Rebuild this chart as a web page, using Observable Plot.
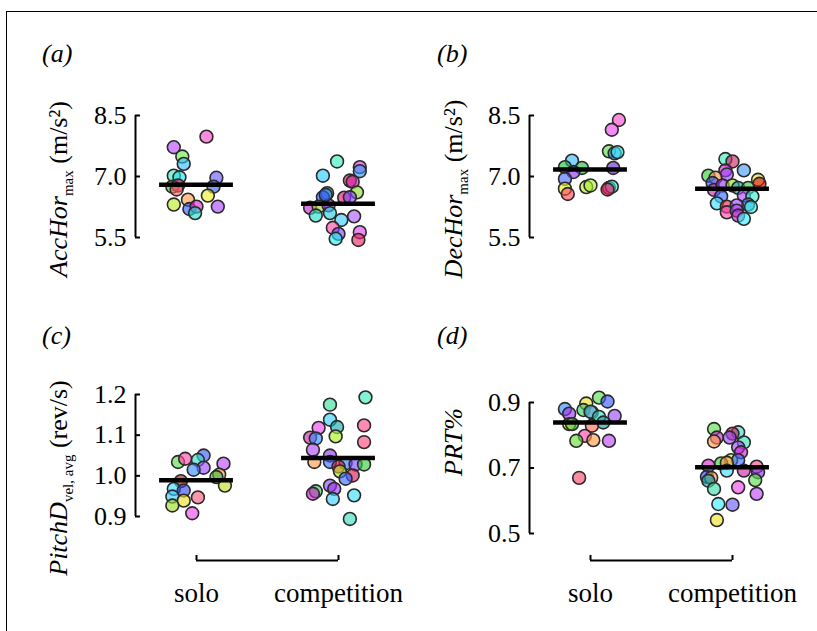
<!DOCTYPE html>
<html>
<head>
<meta charset="utf-8">
<script src="https://cdn.jsdelivr.net/npm/d3@7"></script>
<script src="https://cdn.jsdelivr.net/npm/@observablehq/plot@0.6"></script>
<style>
  html, body { margin: 0; padding: 0; background: #fff; }
  #root { position: relative; width: 817px; height: 631px; overflow: hidden; font-family: "Liberation Serif"; }
  #frame { position: absolute; left: 6px; top: 11px; width: 830px; height: 640px; border-left: 1.5px solid #000; border-top: 1.5px solid #000; box-sizing: border-box; }
</style>
</head>
<body>
<div id="root"><div id="frame"></div></div>
<script>
// ---------- data ----------
const groups = ["solo", "competition"];

// (a) AccHor_max (m/s^2)
const accTicks = [5.5, 7.0, 8.5];
const accSolo = [7.98, 7.72, 7.49, 7.31, 7.02, 6.98, 6.97, 6.75, 6.78, 6.75, 6.68, 6.53, 6.43, 6.31, 6.20, 6.26, 6.10, 6.26];
const accSoloJit = [0.07, -0.16, -0.10, -0.09, -0.16, -0.12, 0.14, -0.17, -0.13, 0.12, -0.14, 0.08, -0.06, -0.16, -0.05, 0.00, -0.01, 0.15];
const accSoloCol = ["#ff44cc", "#bb44ff", "#66ee44", "#33bbff", "#33eebb", "#22ddee", "#6655ff", "#33cc33", "#dd1155", "#3366ee", "#ff6666", "#eeee22", "#ff9944", "#bbee22", "#3355ff", "#dd22cc", "#22ddcc", "#aa44ff"];
const accComp = [7.37, 7.02, 7.23, 7.13, 6.90, 6.87, 6.61, 6.59, 6.49, 6.48, 6.49, 6.23, 6.26, 6.29, 6.04, 6.10, 5.93, 6.02, 5.74, 5.59, 5.47, 5.63, 5.44, 6.55];
const accCompJit = [-0.01, -0.11, 0.15, 0.15, 0.08, 0.10, 0.13, -0.08, -0.11, 0.04, 0.08, -0.20, -0.14, -0.07, -0.16, -0.06, 0.02, 0.11, -0.04, 0.00, -0.02, 0.15, 0.14, -0.09];
const accCompCol = ["#33eebb", "#22ccff", "#dd33dd", "#3399ff", "#dd1155", "#cc22aa", "#88dd22", "#33cc33", "#3355ff", "#dd1166", "#8844ff", "#cc22cc", "#aacc22", "#9933ee", "#22ddcc", "#22ccdd", "#33ccff", "#aa55ff", "#ff44aa", "#7744ff", "#22eeee", "#dd44ee", "#ee2266", "#3366ff"];
const accMeans = [6.80, 6.33];

// (b) DecHor_max (m/s^2)
const decTicks = [5.5, 7.0, 8.5];
const decSolo = [8.39, 8.15, 7.62, 7.57, 7.60, 7.39, 7.23, 7.21, 7.11, 7.21, 6.94, 6.70, 6.57, 6.74, 6.78, 6.72, 6.75, 6.68];
const decSoloJit = [0.20, 0.15, 0.13, 0.17, 0.19, -0.13, -0.18, -0.06, -0.12, 0.16, -0.18, -0.18, -0.16, -0.03, 0.00, 0.13, 0.15, 0.12];
const decSoloCol = ["#ff44cc", "#ee44ee", "#55dd44", "#3388ff", "#33eeee", "#33bbff", "#22bb44", "#22bb33", "#8833ee", "#6622cc", "#4466ff", "#eeee22", "#ff4455", "#bbee22", "#aaee33", "#cc22aa", "#33eecc", "#ee2266"];
const decComp = [7.43, 7.37, 7.15, 7.15, 7.05, 7.02, 6.97, 6.84, 6.92, 6.82, 6.67, 6.78, 6.78, 6.72, 6.72, 6.53, 6.51, 6.51, 6.34, 6.31, 6.25, 6.26, 6.29, 6.12, 6.16, 6.04, 5.96];
const decCompJit = [-0.05, 0.00, 0.08, -0.05, -0.04, -0.17, -0.12, -0.14, 0.18, 0.19, -0.13, -0.07, 0.00, 0.04, 0.11, 0.08, 0.14, -0.08, -0.11, 0.11, 0.13, -0.04, 0.03, -0.04, 0.03, 0.04, 0.08];
const decCompCol = ["#33eebb", "#cc2266", "#4499ff", "#cc22cc", "#9944ff", "#33cc33", "#ff9944", "#3355ff", "#eedd22", "#dd1111", "#cc22aa", "#9933ee", "#99dd22", "#11aaaa", "#33cc33", "#aa44ff", "#33eecc", "#3366ff", "#33ddff", "#3377ff", "#33eedd", "#ee2255", "#9944ff", "#ff44aa", "#aa44ff", "#cc22cc", "#33eeff"];
const decMeans = [7.17, 6.70];

// (c) PitchD_vel,avg (rev/s)
const pitTicks = [0.9, 1.0, 1.1, 1.2];
const pitSolo = [1.034, 1.042, 1.050, 1.039, 1.020, 1.015, 1.030, 1.003, 0.997, 0.976, 0.987, 0.968, 0.964, 0.949, 0.947, 0.939, 0.927, 0.908];
const pitSoloJit = [-0.13, -0.08, 0.05, 0.01, 0.05, -0.02, 0.19, 0.16, 0.14, 0.20, -0.11, -0.16, -0.09, -0.17, 0.01, -0.09, -0.17, -0.03];
const pitSoloCol = ["#55dd44", "#ff44aa", "#3355ff", "#33ddcc", "#9944ff", "#3388ff", "#bb44ff", "#ff9944", "#33bb33", "#bbdd22", "#bb1111", "#33ddff", "#3344ee", "#33ccff", "#ff5577", "#eedd22", "#99dd22", "#ee44ee"];
const pitComp = [1.193, 1.175, 1.138, 1.120, 1.118, 1.124, 1.097, 1.094, 1.092, 1.083, 1.064, 1.050, 1.034, 1.034, 1.031, 1.028, 1.028, 1.023, 1.011, 1.001, 0.993, 0.976, 0.968, 0.962, 0.956, 0.943, 0.952, 0.894];
const pitCompJit = [0.19, -0.06, -0.06, -0.01, -0.14, 0.18, -0.02, -0.20, -0.16, 0.18, -0.18, -0.06, -0.17, -0.06, 0.05, 0.12, 0.18, 0.00, 0.01, 0.10, 0.05, -0.06, -0.03, -0.16, -0.18, -0.04, 0.11, 0.08];
const pitCompCol = ["#33eebb", "#33dd99", "#33ccff", "#11aaaa", "#ee44ee", "#ff4488", "#aaee22", "#cc22aa", "#3388ff", "#ff4477", "#aa44ff", "#8833ee", "#ff9944", "#3366ff", "#3377ff", "#7744ff", "#33cc33", "#dd1144", "#bbdd22", "#dd1155", "#3366ff", "#8844ff", "#9933ee", "#33cc55", "#cc22cc", "#33ccff", "#33ddff", "#33ddbb"];
const pitMeans = [0.989, 1.044];

// (d) PRT%
const prtTicks = [0.5, 0.7, 0.9];
const prtSolo = [0.915, 0.903, 0.897, 0.880, 0.866, 0.877, 0.870, 0.872, 0.859, 0.856, 0.839, 0.834, 0.834, 0.829, 0.798, 0.783, 0.785, 0.783, 0.670];
const prtSoloJit = [0.06, 0.12, -0.03, -0.18, -0.15, -0.05, 0.01, 0.00, 0.17, 0.06, 0.09, -0.15, -0.13, 0.01, -0.04, -0.10, 0.02, 0.13, -0.08];
const prtSoloCol = ["#55dd44", "#3355ff", "#eedd22", "#3388ff", "#9933ee", "#33cc55", "#cc22cc", "#33ddcc", "#9944ff", "#33ddcc", "#119999", "#eedd22", "#44cc33", "#ff6655", "#ff44aa", "#66dd33", "#ff9944", "#bb44ff", "#ff4466"];
const prtComp = [0.819, 0.793, 0.781, 0.809, 0.805, 0.793, 0.778, 0.763, 0.748, 0.724, 0.724, 0.707, 0.714, 0.716, 0.704, 0.687, 0.692, 0.692, 0.673, 0.670, 0.661, 0.663, 0.636, 0.641, 0.621, 0.590, 0.588, 0.541];
const prtCompJit = [-0.13, -0.11, -0.13, 0.04, 0.00, -0.02, 0.08, 0.04, 0.06, -0.01, 0.04, -0.17, -0.08, -0.04, 0.17, 0.18, -0.04, 0.08, -0.18, -0.15, -0.17, 0.16, -0.13, 0.04, 0.17, -0.10, 0.00, -0.11];
const prtCompCol = ["#55dd44", "#cc22cc", "#ff9944", "#33ddcc", "#cc1155", "#9944ff", "#33ddbb", "#aa44ff", "#cc22cc", "#aaee22", "#3366ff", "#dd22cc", "#33cc33", "#ff9944", "#ff4488", "#8833ee", "#33ddff", "#cc22aa", "#2244ee", "#ff9944", "#11aaaa", "#55dd44", "#33ddaa", "#ee44ee", "#bb44ff", "#33eeff", "#6655ff", "#eedd22"];
const prtMeans = [0.839, 0.702];

// ---------- layout ----------
const FONT = "Liberation Serif";
const panels = [
  { key: "a", ticks: accTicks, means: accMeans, data: [[accSolo, accSoloJit, accSoloCol], [accComp, accCompJit, accCompCol]],
    axisPx: 135, soloPx: 196, compPx: 338, topPx: 115, bottomPx: 237, xAxis: false,
    letter: [42, 62], title: [67, 189], main: "AccHor", sub: "max", unit: " (m/s\u00B2)" },
  { key: "b", ticks: decTicks, means: decMeans, data: [[decSolo, decSoloJit, decSoloCol], [decComp, decCompJit, decCompCol]],
    axisPx: 529, soloPx: 590, compPx: 732, topPx: 115, bottomPx: 237, xAxis: false,
    letter: [437, 62], title: [462, 189], main: "DecHor", sub: "max", unit: " (m/s\u00B2)" },
  { key: "c", ticks: pitTicks, means: pitMeans, data: [[pitSolo, pitSoloJit, pitSoloCol], [pitComp, pitCompJit, pitCompCol]],
    axisPx: 135, soloPx: 196, compPx: 338, topPx: 394, bottomPx: 516, xAxis: true,
    letter: [42, 344], title: [67, 478], main: "PitchD", sub: "vel, avg", unit: " (rev/s)" },
  { key: "d", ticks: prtTicks, means: prtMeans, data: [[prtSolo, prtSoloJit, prtSoloCol], [prtComp, prtCompJit, prtCompCol]],
    axisPx: 529, soloPx: 590, compPx: 732, topPx: 402, bottomPx: 533, xAxis: true,
    letter: [437, 344], title: [462, 442], main: "PRT%", sub: null, unit: "" }
];

const root = document.getElementById("root");

for (const p of panels) {
  const unitPx = p.compPx - p.soloPx;
  const ax = (p.axisPx - p.soloPx) / unitPx;
  const lo = p.ticks[0], hi = p.ticks[p.ticks.length - 1];
  const pxToY = px => lo + (p.bottomPx - px) / (p.bottomPx - p.topPx) * (hi - lo);

  const pts = [];
  p.data.forEach(([vals, jit, col], gi) => vals.forEach((v, i) => pts.push({ x: gi + jit[i], y: v, c: col[i] })));

  const marks = [
    Plot.ruleX([ax], { y1: lo, y2: hi, stroke: "#000", strokeWidth: 2 }),
    Plot.ruleY(p.ticks, { x1: ax, x2: ax + 5 / unitPx, stroke: "#000", strokeWidth: 2 }),
    Plot.text(p.ticks, { x: ax, y: d => d, text: d => d.toFixed(1), textAnchor: "end", dx: -9, fontSize: 26, fontFamily: FONT, fill: "#000" }),
    Plot.dot(pts, { x: "x", y: "y", r: 6.4, fill: "c", fillOpacity: 0.62, stroke: "#2a2a2a", strokeWidth: 1.6 }),
    Plot.ruleY(p.means, { y: d => d, x1: (d, i) => i - 0.26, x2: (d, i) => i + 0.26, stroke: "#000", strokeWidth: 4.5 })
  ];
  if (p.xAxis) {
    const yLine = pxToY(560);
    marks.push(
      Plot.ruleY([yLine], { x1: 0, x2: 1, stroke: "#000", strokeWidth: 2 }),
      Plot.ruleX([0, 1], { y1: yLine, y2: pxToY(555), stroke: "#000", strokeWidth: 2 }),
      Plot.text(groups, { x: (d, i) => i, y: yLine, dy: 33, text: d => d, fontSize: 27, fontFamily: FONT, fill: "#000" })
    );
  }

  const chart = Plot.plot({
    width: 817, height: 631,
    marginLeft: 0, marginRight: 0, marginTop: 0, marginBottom: 0,
    x: { domain: [0, 1], range: [p.soloPx, p.compPx], axis: null },
    y: { domain: [lo, hi], range: [p.bottomPx, p.topPx], axis: null },
    color: { type: "identity" },
    style: { background: "transparent", fontFamily: FONT, overflow: "visible" },
    marks
  });
  chart.style.position = "absolute";
  chart.style.left = "0px";
  chart.style.top = "0px";

  const svg = d3.select(chart);
  svg.append("text")
    .attr("x", p.letter[0]).attr("y", p.letter[1])
    .attr("text-anchor", "start")
    .attr("font-family", FONT).attr("font-style", "italic").attr("font-size", 26)
    .text(`(${p.key})`);
  const t = svg.append("text")
    .attr("transform", `translate(${p.title[0]},${p.title[1]}) rotate(-90)`)
    .attr("text-anchor", "middle").attr("font-family", FONT).attr("font-size", 26);
  t.append("tspan").attr("font-style", "italic").text(p.main);
  if (p.sub) {
    t.append("tspan").attr("font-size", 15).attr("dy", 6).text(p.sub);
    t.append("tspan").attr("dy", -6).text(p.unit);
  }
  root.appendChild(chart);
}
</script>
</body>
</html>
